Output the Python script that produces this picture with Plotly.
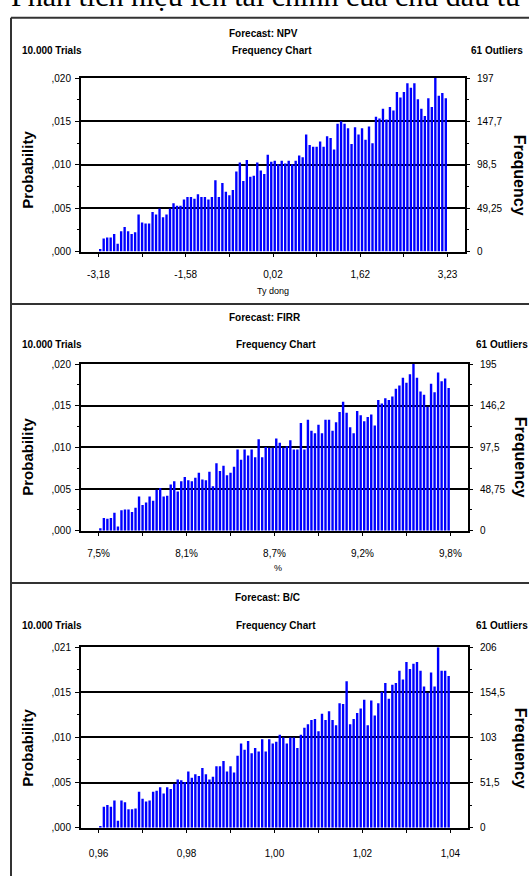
import plotly.graph_objects as go

W, H = 529, 882

# ---------------- data (frequency counts per bin) -------------
npv_freq = [3, 15, 16, 16, 20, 9, 23, 28, 23, 20,
            22, 42, 33, 32, 32, 45, 42, 49, 39, 42,
            49, 55, 52, 52, 59, 62, 62, 60, 65, 62,
            62, 59, 62, 81, 62, 78, 68, 64, 70, 91,
            101, 80, 104, 85, 86, 101, 92, 88, 110, 102,
            103, 99, 103, 100, 103, 99, 103, 109, 107, 133,
            121, 119, 119, 125, 119, 131, 129, 116, 145, 148,
            145, 140, 122, 141, 133, 140, 127, 142, 123, 153,
            151, 162, 150, 164, 160, 181, 175, 181, 191, 186,
            191, 173, 162, 154, 174, 164, 197, 177, 180, 174]

firr_freq = [3, 15, 14, 15, 21, 5, 24, 25, 25, 22,
             27, 40, 30, 33, 40, 35, 48, 50, 40, 41,
             54, 58, 46, 58, 63, 59, 58, 62, 68, 60,
             59, 69, 52, 79, 70, 76, 65, 68, 75, 95,
             83, 95, 88, 95, 86, 107, 86, 98, 97, 97,
             108, 103, 97, 99, 106, 95, 95, 126, 95, 130,
             117, 114, 124, 114, 130, 130, 117, 127, 139, 151,
             138, 121, 114, 140, 135, 128, 133, 136, 123, 153,
             149, 155, 153, 157, 166, 170, 179, 173, 183, 195,
             179, 163, 159, 145, 172, 162, 185, 175, 178, 167]

bc_freq = [2, 24, 26, 24, 31, 8, 31, 29, 21, 21,
           22, 41, 33, 30, 31, 41, 42, 46, 39, 46,
           44, 50, 55, 54, 52, 64, 57, 61, 59, 68,
           61, 55, 58, 70, 70, 76, 64, 70, 63, 82,
           96, 89, 99, 85, 91, 87, 101, 87, 101, 96,
           98, 106, 103, 96, 103, 103, 91, 106, 114, 118,
           123, 124, 110, 130, 123, 133, 123, 117, 142, 141,
           167, 118, 124, 131, 136, 146, 117, 145, 128, 142,
           155, 165, 147, 163, 165, 179, 169, 189, 181, 187,
           189, 179, 161, 154, 177, 161, 206, 179, 179, 173]

npv_range = [-3.181, 3.226]
firr_range = [7.5, 9.8]
bc_range = [0.96, 1.04]

npv_xticks = ["-3,18", "-1,58", "0,02", "1,62", "3,23"]
firr_xticks = ["7,5%", "8,1%", "8,7%", "9,2%", "9,8%"]
bc_xticks = ["0,96", "0,98", "1,00", "1,02", "1,04"]

npv_max, firr_max, bc_max = 197, 195, 206
npv_prob_ticks = [",000", ",005", ",010", ",015", ",020"]
firr_prob_ticks = [",000", ",005", ",010", ",015", ",020"]
bc_prob_ticks = [",000", ",005", ",010", ",015", ",021"]
npv_freq_ticks = ["0", "49,25", "98,5", "147,7", "197"]
firr_freq_ticks = ["0", "48,75", "97,5", "146,2", "195"]
bc_freq_ticks = ["0", "51,5", "103", "154,5", "206"]

forecast_names = ["NPV", "FIRR", "B/C"]
x_titles = ["Ty dong", "%", ""]
trials_text = "10.000 Trials"
chart_text = "Frequency Chart"
outliers_text = "61 Outliers"
heading = "Phân tích hiệu lên tài chính của chủ đầu tư"

# ---------------- layout geometry (pixels) ----------------
panels = [
    dict(freq=npv_freq, rng=npv_range, xt=npv_xticks, ymax=npv_max, lt=npv_prob_ticks, rt=npv_freq_ticks,
         box=(81, 465, 73, 249), title_y=28, sub_y=45, title_x=263, chart_x=272, out_x=469, xstand=9,
         prob_y=166, freq_x=519, freq_y=171, xt_y=289, xt_x=273),
    dict(freq=firr_freq, rng=firr_range, xt=firr_xticks, ymax=firr_max, lt=firr_prob_ticks, rt=firr_freq_ticks,
         box=(81, 468, 363, 532), title_y=316, sub_y=343, title_x=265, chart_x=276, out_x=474, xstand=9,
         prob_y=457, freq_x=520, freq_y=457, xt_y=570, xt_x=278),
    dict(freq=bc_freq, rng=bc_range, xt=bc_xticks, ymax=bc_max, lt=bc_prob_ticks, rt=bc_freq_ticks,
         box=(81, 468, 650, 833), title_y=600, sub_y=628, title_x=267, chart_x=276, out_x=474, xstand=12,
         prob_y=752, freq_x=520, freq_y=752, xt_y=860, xt_x=273),
]


def xp(px):
    return px / W


def yp(py):
    return 1 - py / H


fig = go.Figure()
annotations = []
shapes = []
layout = {}

TICKFONT = dict(family="Liberation Sans, Arial, sans-serif", size=10, color="black")
HEADFONT = dict(family="Liberation Sans, Arial, sans-serif", size=10, color="black", weight="bold")
LINE_W = 2

for i, p in enumerate(panels):
    k = i + 1
    xname = "x" if k == 1 else f"x{k}"
    yl = 2 * k - 1
    yr = 2 * k
    ylname = "y" if yl == 1 else f"y{yl}"
    yrname = f"y{yr}"
    x0, x1 = p["rng"]
    R = x1 - x0
    n = len(p["freq"])
    bw = R / n
    centers = [x0 + (j + 0.5) * bw for j in range(n)]
    left_px, right_px, top_px, bot_px = p["box"]
    xr = [x0 - 0.05 * R, x1 + 0.05 * R]
    ymax = p["ymax"]

    fig.add_trace(go.Bar(x=centers, y=p["freq"], width=bw * 0.68,
                         marker=dict(color="#0000FF", line=dict(width=0)),
                         xaxis=xname, yaxis=ylname, showlegend=False, hoverinfo="skip"))
    fig.add_trace(go.Scatter(x=[x0, x0], y=[0, ymax], mode="markers", marker=dict(opacity=0),
                             xaxis=xname, yaxis=yrname, showlegend=False, hoverinfo="skip"))
    # range markers (triangles)
    pxu = (xr[1] - xr[0]) / (right_px - left_px)
    pyu = ymax / (bot_px - top_px)
    fig.add_trace(go.Scatter(x=[x0 + 3 * pxu, x1 - 3 * pxu], y=[-7 * pyu, -7 * pyu], mode="markers",
                             marker=dict(symbol=["triangle-right-open", "triangle-left-open"], size=10,
                                         color="black", line=dict(width=1)),
                             cliponaxis=False, xaxis=xname, yaxis=ylname, showlegend=False, hoverinfo="skip"))

    q = [ymax * t / 4 for t in range(5)]
    qm = [ymax * (2 * t + 1) / 8 for t in range(4)]
    xtv = [x0 + R * t / 8 for t in range(9)]
    xtt = [p["xt"][t // 2] if t % 2 == 0 else "" for t in range(9)]

    layout["xaxis" if k == 1 else f"xaxis{k}"] = dict(
        domain=[xp(left_px), xp(right_px)], range=xr, anchor=ylname,
        tickmode="array", tickvals=xtv, ticktext=xtt, ticks="outside", ticklen=3, tickcolor="black",
        showline=True, linecolor="black", linewidth=LINE_W, mirror=True, showgrid=False, zeroline=False,
        tickfont=TICKFONT, ticklabelstandoff=p["xstand"], fixedrange=True)
    layout["yaxis" if yl == 1 else f"yaxis{yl}"] = dict(
        domain=[yp(bot_px), yp(top_px)], range=[0, ymax], anchor=xname,
        tickmode="array", tickvals=q, ticktext=p["lt"], ticks="outside", ticklen=4, tickcolor="black",
        showline=True, linecolor="black", linewidth=LINE_W, showgrid=True, gridcolor="black", gridwidth=LINE_W,
        zeroline=False, tickfont=TICKFONT, ticklabelstandoff=2, fixedrange=True,
        minor=dict(tickmode="array", tickvals=qm, ticks="outside", ticklen=2, tickcolor="black", showgrid=False))
    layout[f"yaxis{yr}"] = dict(
        overlaying=ylname, side="right", range=[0, ymax], anchor=xname,
        tickmode="array", tickvals=q, ticktext=p["rt"], ticks="outside", ticklen=3, tickcolor="black",
        showline=True, linecolor="black", linewidth=LINE_W, showgrid=False, zeroline=False,
        tickfont=TICKFONT, ticklabelstandoff=5, fixedrange=True,
        minor=dict(tickmode="array", tickvals=qm, ticks="outside", ticklen=2, tickcolor="black", showgrid=False))

    # texts
    annotations.append(dict(text="Forecast: " + forecast_names[i], x=xp(p["title_x"]), y=yp(p["title_y"]),
                            xanchor="center", yanchor="middle", font=HEADFONT))
    annotations.append(dict(text=trials_text, x=xp(20), y=yp(p["sub_y"]), xanchor="left", yanchor="middle",
                            font=HEADFONT))
    annotations.append(dict(text=chart_text, x=xp(p["chart_x"]), y=yp(p["sub_y"]), xanchor="center",
                            yanchor="middle", font=HEADFONT))
    annotations.append(dict(text=outliers_text, x=xp(p["out_x"]), y=yp(p["sub_y"]), xanchor="left",
                            yanchor="middle", font=HEADFONT))
    annotations.append(dict(text="Probability", x=xp(28), y=yp(p["prob_y"]), textangle=-90,
                            xanchor="center", yanchor="middle",
                            font=dict(family="Liberation Sans, Arial, sans-serif", size=15, color="black",
                                      weight="bold")))
    annotations.append(dict(text="Frequency", x=xp(p["freq_x"]), y=yp(p["freq_y"]), textangle=90,
                            xanchor="center", yanchor="middle",
                            font=dict(family="Liberation Sans, Arial, sans-serif", size=16, color="black",
                                      weight="bold")))
    if x_titles[i]:
        annotations.append(dict(text=x_titles[i], x=xp(p["xt_x"]), y=yp(p["xt_y"]), xanchor="center",
                                yanchor="middle", font=dict(family="Liberation Sans, Arial, sans-serif",
                                                             size=9, color="black")))

# heading (clipped at the top of the page, as in the scanned page)
annotations.append(dict(text=heading, x=xp(9), y=yp(-11), xanchor="left", yanchor="middle",
                        font=dict(family="Liberation Serif, Times New Roman, serif", size=30, color="black")))

for a in annotations:
    a.update(xref="paper", yref="paper", showarrow=False)

# outer frame and separators
frame_col = "#333333"
shapes.append(dict(type="line", xref="paper", yref="paper", x0=xp(11), x1=xp(11), y0=yp(12), y1=yp(882),
                   line=dict(color=frame_col, width=2)))
for yy in (12, 302, 585):
    shapes.append(dict(type="line", xref="paper", yref="paper", x0=xp(11), x1=xp(529), y0=yp(yy), y1=yp(yy),
                       line=dict(color=frame_col, width=2)))

fig.update_layout(width=W, height=H, autosize=False, margin=dict(l=0, r=0, t=0, b=0),
                  paper_bgcolor="white", plot_bgcolor="white", barmode="overlay",
                  annotations=annotations, shapes=shapes, showlegend=False, **layout)

fig.write_html("out.html", config={"displayModeBar": False, "staticPlot": True},
               post_script="document.body.style.margin='0px';document.body.style.overflow='hidden';")
